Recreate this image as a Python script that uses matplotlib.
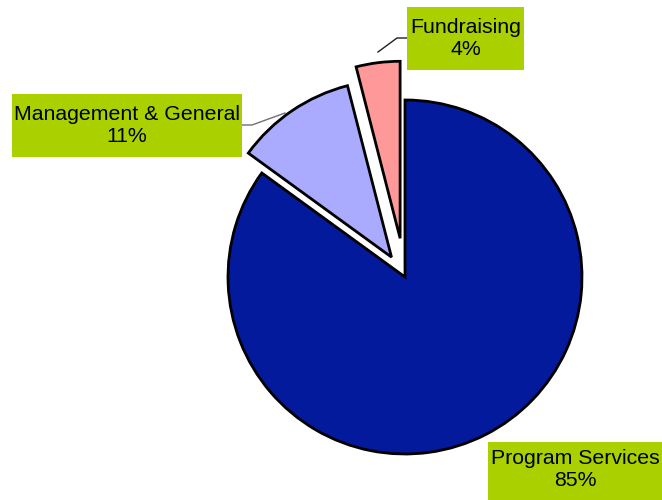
import matplotlib.pyplot as plt
from matplotlib.patches import Rectangle

plt.rcParams['font.family'] = ['Liberation Sans', 'DejaVu Sans']

# data
labels = ['Program Services', 'Management & General', 'Fundraising']
values = [85, 11, 4]
colors = ['#031A9C', '#AAAAFF', '#FF9999']
explode = [0.0, 24, 39]   # offsets in pixels (pie uses absolute units)

W, H = 662, 500
fig = plt.figure(figsize=(W / 100, H / 100), dpi=100)
ax = fig.add_axes([0, 0, 1, 1])

# pie, centre/radius in pixel coords (y up)
cx, cy, r = 405, H - 277, 177
ax.pie(values, colors=colors, explode=explode, startangle=90, counterclock=False,
       center=(cx, cy), radius=r, frame=True,
       wedgeprops=dict(edgecolor='black', linewidth=2, joinstyle='miter'))
ax.set_xlim(0, W)
ax.set_ylim(0, H)
ax.set_aspect('equal')
ax.axis('off')

green = '#AAD000'


def label_box(x0, y0, x1, y1, text, tx=None, ty=None):
    # box given in image pixel coords (y down)
    ax.add_patch(Rectangle((x0, H - y1), x1 - x0, y1 - y0, facecolor=green,
                           edgecolor='none', zorder=5))
    if tx is None:
        tx = (x0 + x1) / 2
    if ty is None:
        ty = (y0 + y1) / 2
    ax.text(tx, H - ty, text, ha='center', va='center', fontsize=15.3,
            linespacing=1.2, zorder=6)


pcts = ['%d%%' % v for v in values]
label_box(488, 442, 670, 510, labels[0] + '\n' + pcts[0], tx=575, ty=470)
label_box(12, 94, 242, 157, labels[1] + '\n' + pcts[1])
label_box(407, 7, 524, 70, labels[2] + '\n' + pcts[2])

# leader lines
ax.plot([242, 252, 285], [H - 125, H - 125, H - 113], color='#707070', lw=1, zorder=4)
ax.plot([378, 397, 407], [H - 52, H - 38, H - 38], color='#202020', lw=1, zorder=4)

fig.savefig('out.png', dpi=100)
